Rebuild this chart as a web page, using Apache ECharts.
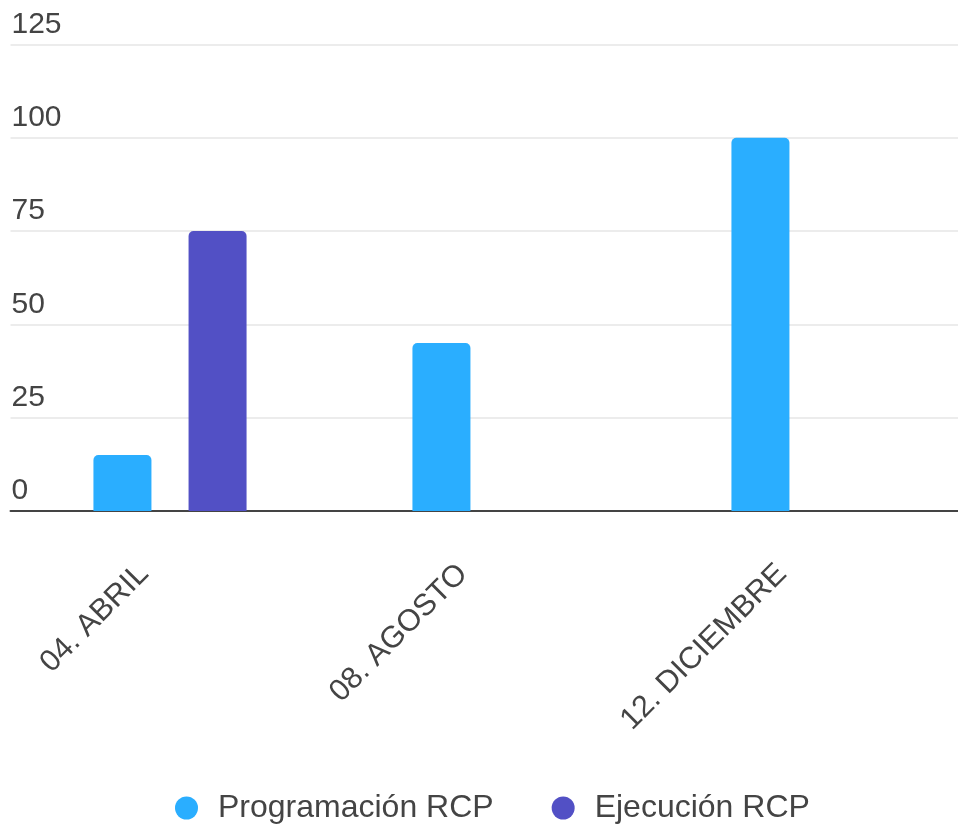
<!DOCTYPE html>
<html>
<head>
<meta charset="utf-8">
<script src="https://cdn.jsdelivr.net/npm/echarts@6/dist/echarts.min.js"></script>
<style>
  html, body { margin: 0; padding: 0; background: #ffffff; overflow: hidden; }
  #chart { width: 968px; height: 829px; }
</style>
</head>
<body>
<div id="chart"></div>
<script>
const categories = ['04. ABRIL', '08. AGOSTO', '12. DICIEMBRE'];
const programacion = [15, 45, 100];
const ejecucion = [75, null, null];
const seriesNames = ['Programación RCP', 'Ejecución RCP'];
const yTicks = [0, 25, 50, 75, 100, 125];

const FONT = '"Liberation Sans", Arial, sans-serif';
const chart = echarts.init(document.getElementById('chart'), null, { renderer: 'canvas' });

chart.setOption({
  backgroundColor: '#ffffff',
  animation: false,
  textStyle: { fontFamily: FONT },
  grid: { left: 10.5, right: 0.5, top: 44.5, bottom: 318, containLabel: false },
  legend: {
    data: seriesNames,
    left: 175,
    top: 792,
    padding: 0,
    icon: 'circle',
    itemWidth: 23,
    itemHeight: 23,
    itemGap: 58,
    textStyle: { fontFamily: FONT, fontSize: 32, color: '#444444', padding: [0, 0, 0, 15] }
  },
  xAxis: {
    type: 'category',
    data: categories,
    axisLine: { show: true, lineStyle: { color: '#444444', width: 2 } },
    axisTick: { show: false },
    axisLabel: {
      rotate: 45,
      interval: 0,
      margin: 32,
      fontFamily: FONT,
      fontSize: 30.5,
      color: '#444444',
      padding: [0, 37, 0, 0]
    },
    splitLine: { show: false }
  },
  yAxis: {
    type: 'value',
    min: yTicks[0],
    max: yTicks[yTicks.length - 1],
    interval: 25,
    axisLine: { show: false },
    axisTick: { show: false },
    splitLine: { show: true, lineStyle: { color: '#e6e6e6', width: 1.5 } },
    axisLabel: {
      inside: true,
      margin: 1,
      align: 'left',
      verticalAlign: 'bottom',
      padding: [0, 0, 5, 0],
      fontFamily: FONT,
      fontSize: 30,
      color: '#444444'
    }
  },
  series: [
    {
      name: seriesNames[0],
      type: 'bar',
      data: programacion,
      barWidth: 58,
      barGap: '64%',
      itemStyle: { color: '#2aaeff', borderRadius: [5, 5, 0, 0] }
    },
    {
      name: seriesNames[1],
      type: 'bar',
      data: ejecucion,
      barWidth: 58,
      barGap: '64%',
      itemStyle: { color: '#5250c5', borderRadius: [5, 5, 0, 0] }
    }
  ]
});
</script>
</body>
</html>
